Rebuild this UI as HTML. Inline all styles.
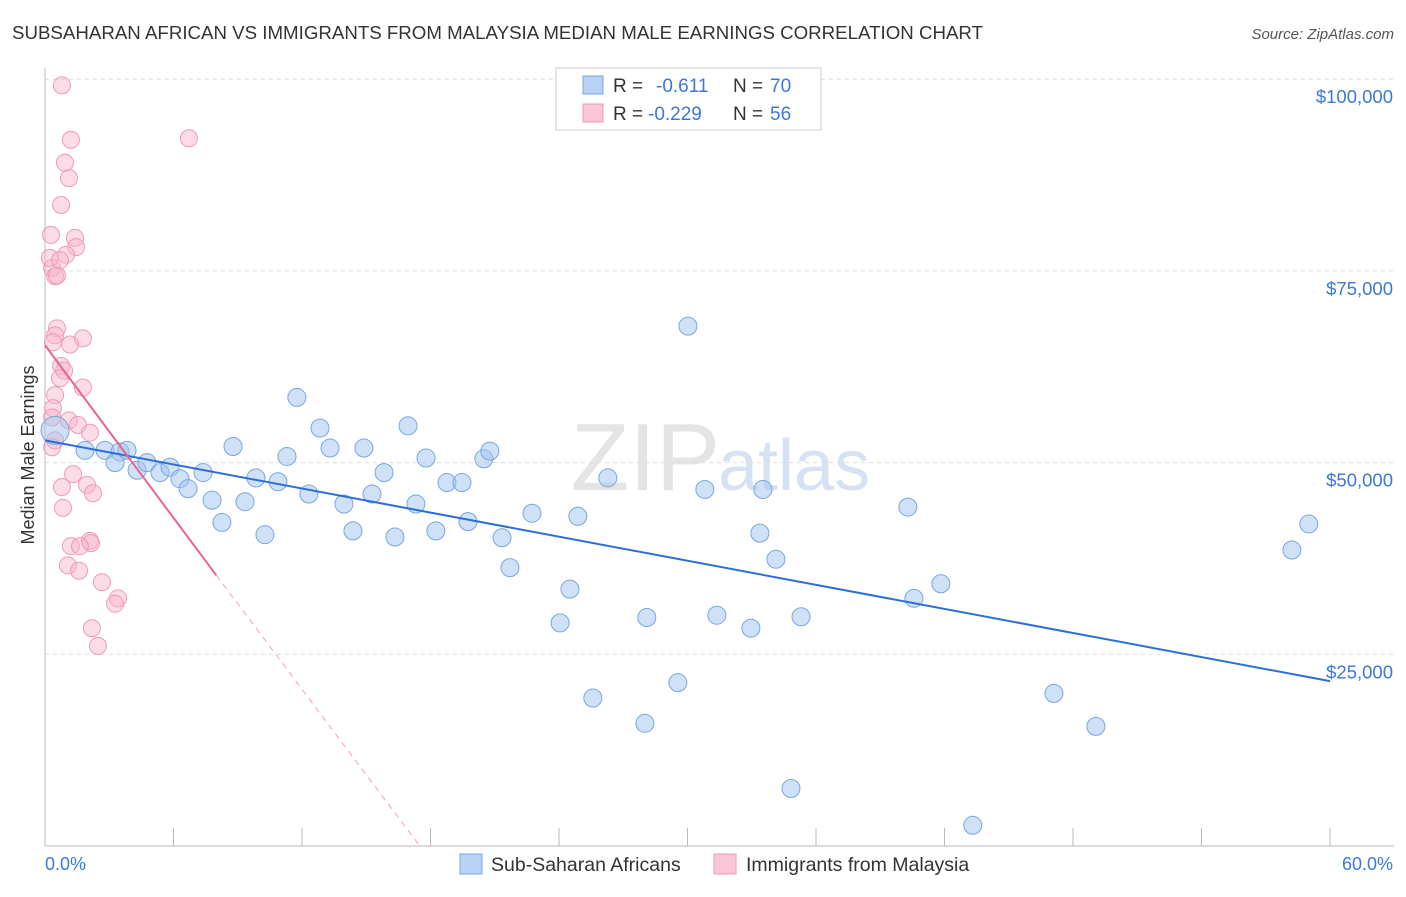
<!DOCTYPE html>
<html><head><meta charset="utf-8"><style>
body{margin:0;background:#fff;font-family:"Liberation Sans",sans-serif;}
svg text{font-family:"Liberation Sans",sans-serif;}
</style></head><body>
<svg id="chart" width="1406" height="892">
<text x="12" y="39" font-size="18" fill="#333" textLength="971" lengthAdjust="spacingAndGlyphs">SUBSAHARAN AFRICAN VS IMMIGRANTS FROM MALAYSIA MEDIAN MALE EARNINGS CORRELATION CHART</text>
<text x="1394" y="39" font-size="15" fill="#555" text-anchor="end" font-style="italic">Source: ZipAtlas.com</text>
<text x="720" y="490" font-size="96" fill="#e4e4e4" text-anchor="end" font-family="Liberation Serif">ZIP</text>
<text x="718" y="490" font-size="72" fill="#d6e2f4">atlas</text>
<g id="grid"></g><g id="axes"></g><g id="marks"></g>
<text transform="translate(34,455) rotate(-90)" font-size="18" fill="#333" text-anchor="middle">Median Male Earnings</text>
<text x="45" y="870" font-size="18" fill="#3b78d8">0.0%</text>
<text x="1393" y="870" font-size="18" fill="#3b78d8" text-anchor="end">60.0%</text>
<g>
<rect x="556" y="68" width="265" height="62" fill="#fff" stroke="#ccc"/>
<rect x="583" y="76" width="20" height="18" fill="#b7d2f5" stroke="#7aa6e0"/>
<rect x="583" y="104" width="20" height="18" fill="#f9c6d6" stroke="#f09ab8"/>
<text x="613" y="92" font-size="19" fill="#333">R =</text>
<text x="656" y="92" font-size="19" fill="#3b78d8">-0.611</text>
<text x="733" y="92" font-size="19" fill="#333">N =</text>
<text x="770" y="92" font-size="19" fill="#3b78d8">70</text>
<text x="613" y="120" font-size="19" fill="#333">R =</text>
<text x="648" y="120" font-size="19" fill="#3b78d8">-0.229</text>
<text x="733" y="120" font-size="19" fill="#333">N =</text>
<text x="770" y="120" font-size="19" fill="#3b78d8">56</text>
</g>
<g>
<rect x="460" y="854" width="22" height="20" fill="#b7d2f5" stroke="#7aa6e0"/>
<text x="491" y="871" font-size="19.5" fill="#333">Sub-Saharan Africans</text>
<rect x="714" y="854" width="22" height="20" fill="#f9c6d6" stroke="#f09ab8"/>
<text x="746" y="871" font-size="19.5" fill="#333">Immigrants from Malaysia</text>
</g>
</svg>
<script>
const yTicks=[25000,50000,75000,100000];
const yTickLabels=["$25,000","$50,000","$75,000","$100,000"];
const xTicks=[0,6,12,18,24,30,36,42,48,54,60];
const blueX=[0.47,1.87,2.80,3.50,3.27,3.83,4.30,4.76,5.37,5.84,6.30,6.68,7.38,7.80,8.26,8.78,9.34,9.85,10.27,10.88,11.30,11.76,12.32,12.84,13.31,13.96,14.38,14.89,15.27,15.83,16.34,16.95,17.32,17.79,18.25,18.77,19.47,19.75,20.49,20.77,21.34,21.71,22.74,24.05,24.51,24.88,25.58,26.28,28.01,28.10,29.55,30.02,30.81,31.37,32.96,33.38,33.52,34.13,34.83,35.30,40.29,40.57,41.83,43.32,47.11,49.07,58.22,59.01];
const blueY=[54.2,51.6,51.6,51.4,50.0,51.6,49.0,50.0,48.7,49.4,47.9,46.6,48.7,45.1,42.2,52.1,44.9,48.0,40.6,47.5,50.8,58.5,45.9,54.5,51.9,44.6,41.1,51.9,45.9,48.7,40.3,54.8,44.6,50.6,41.1,47.4,47.4,42.3,50.5,51.5,40.2,36.3,43.4,29.1,33.5,43.0,19.3,48.0,16.0,29.8,21.3,67.8,46.5,30.1,28.4,40.8,46.5,37.4,7.5,29.9,44.2,32.3,34.2,2.7,19.9,15.6,38.6,42.0];
const blueR=[14,9,9,9,9,9,9,9,9,9,9,9,9,9,9,9,9,9,9,9,9,9,9,9,9,9,9,9,9,9,9,9,9,9,9,9,9,9,9,9,9,9,9,9,9,9,9,9,9,9,9,9,9,9,9,9,9,9,9,9,9,9,9,9,9,9,9,9];
const pinkX=[0.79,1.21,6.72,0.93,1.12,0.75,0.28,1.40,1.45,0.98,0.33,0.47,0.56,0.56,0.47,0.37,1.77,1.17,0.75,0.89,0.70,1.77,0.47,0.37,1.12,1.54,0.47,0.33,1.31,0.79,1.96,2.24,0.84,1.21,2.10,2.15,1.63,1.07,1.59,2.66,3.41,3.27,2.19,2.47,0.23,0.70,0.33,2.10];
const pinkY=[99.2,92.1,92.3,89.1,87.1,83.6,79.7,79.3,78.1,77.1,75.4,74.3,74.4,67.5,66.6,65.7,66.2,65.4,62.6,62.0,61.0,59.8,58.8,57.1,55.5,54.9,52.9,52.0,48.5,46.8,47.1,46.0,44.1,39.1,39.8,39.5,39.1,36.6,35.9,34.4,32.3,31.6,28.4,26.1,76.7,76.4,55.9,53.9];
const blueLine=[[0,52.9],[60,21.5]];
const pinkSolid=[[0,65.3],[8.0,35.3]];
const pinkDash=[[8.0,35.3],[17.5,0]];
const X0=45,X1=1330,YB=846,PXK=7.668;
const sx=v=>X0+(v/60)*(X1-X0);
const sy=v=>YB-(v>1000?v/1000:v)*PXK;
const NS="http://www.w3.org/2000/svg";
function mk(tag,at,parent){const e=document.createElementNS(NS,tag);for(const k in at)e.setAttribute(k,at[k]);parent.appendChild(e);return e;}
const grid=document.getElementById('grid'),axes=document.getElementById('axes'),marks=document.getElementById('marks');
yTicks.forEach((t,i)=>{
 const l=mk('line',{x1:X0,x2:1394,y1:sy(t),y2:sy(t),stroke:'#ddd','stroke-dasharray':'4,4'},grid);
 
 
 const tx=mk('text',{x:1393,y:sy(t)+24,'font-size':18.5,fill:'#3b78d8','text-anchor':'end'},axes);
 tx.textContent=yTickLabels[i];
 
 
});
const ax=mk('line',{x1:X0,x2:X0,y1:68,y2:YB,stroke:'#bbb'},axes);


const bx=mk('line',{x1:X0,x2:1394,y1:YB,y2:YB,stroke:'#bbb'},axes);


xTicks.forEach(t=>{
 const l=mk('line',{x1:sx(t),x2:sx(t),y1:YB,y2:YB-18,stroke:'#bbb'},axes);
 
 
});
pinkX.forEach((x,i)=>{
 const c=mk('circle',{cx:sx(x),cy:sy(pinkY[i]),r:8.5,fill:'rgba(248,180,202,0.45)',stroke:'#f09ab8','stroke-width':1},marks);
 
 
});
blueX.forEach((x,i)=>{
 const c=mk('circle',{cx:sx(x),cy:sy(blueY[i]),r:blueR[i],fill:'rgba(160,196,240,0.5)',stroke:'#7aa6e0','stroke-width':1},marks);
 
 
});
const bl=mk('line',{x1:sx(blueLine[0][0]),y1:sy(blueLine[0][1]),x2:sx(blueLine[1][0]),y2:sy(blueLine[1][1]),stroke:'#2b6fd6','stroke-width':2},marks);


const ps=mk('line',{x1:sx(pinkSolid[0][0]),y1:sy(pinkSolid[0][1]),x2:sx(pinkSolid[1][0]),y2:sy(pinkSolid[1][1]),stroke:'#e8648f','stroke-width':2},marks);


const pd=mk('line',{x1:sx(pinkDash[0][0]),y1:sy(pinkDash[0][1]),x2:sx(pinkDash[1][0]),y2:sy(pinkDash[1][1]),stroke:'#f0a0ba','stroke-width':1,'stroke-dasharray':'6,5'},marks);


</script>
</body></html>
